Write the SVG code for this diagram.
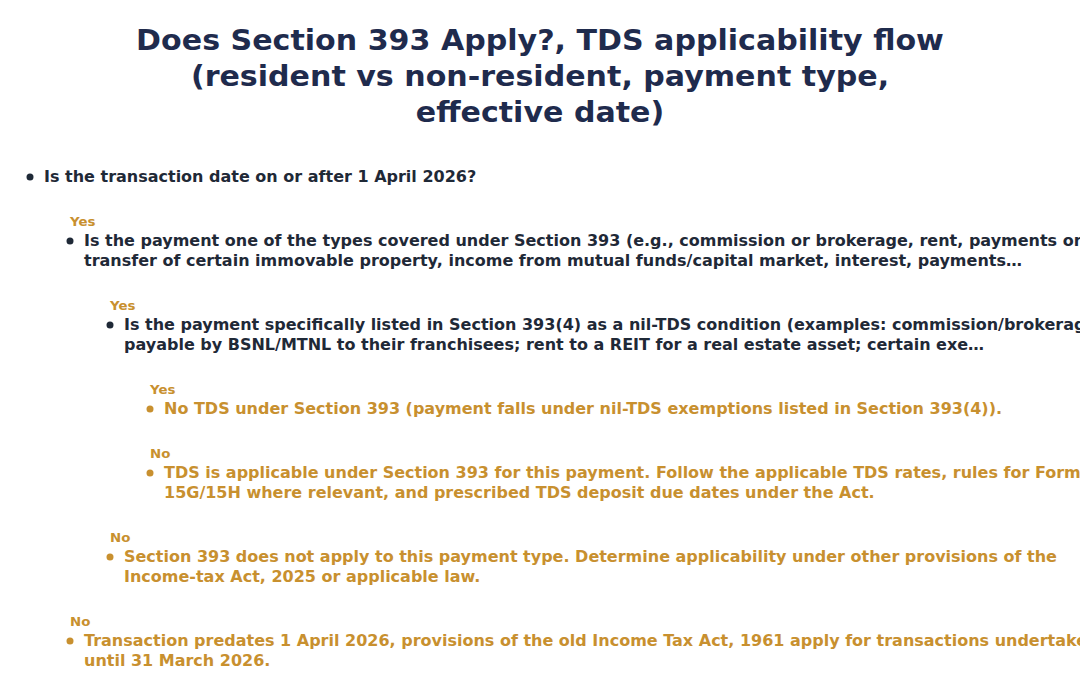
<svg xmlns="http://www.w3.org/2000/svg" width="1080" height="698" viewBox="0 0 1080 698">
<style>
text{font-family:"DejaVu Sans",sans-serif;font-weight:bold}
.t{font-size:28px;fill:#1f2b4d;text-anchor:middle}
.q{font-size:15px;fill:#1f2937}
.a{font-size:15px;fill:#c8902f}
.l{font-size:12.5px;fill:#c8902f}
.dq{fill:#1f2937}
.da{fill:#c8902f}
</style>
<rect width="1080" height="698" fill="#ffffff"/>
<g id="title">
<text class="t" transform="translate(540,50) scale(1.075,1)">Does Section 393 Apply?, TDS applicability flow</text>
<text class="t" transform="translate(540,86) scale(1.075,1)">(resident vs non-resident, payment type,</text>
<text class="t" transform="translate(540,122) scale(1.075,1)">effective date)</text>
</g>
<g id="connectors">
<text class="l" transform="translate(70,226) scale(1.067,1)">Yes</text>
<text class="l" transform="translate(110,310) scale(1.067,1)">Yes</text>
<text class="l" transform="translate(150,394) scale(1.067,1)">Yes</text>
<text class="l" transform="translate(150,458) scale(1.067,1)">No</text>
<text class="l" transform="translate(110,542) scale(1.067,1)">No</text>
<text class="l" transform="translate(70,626) scale(1.067,1)">No</text>
</g>
<g id="q1">
<circle class="dq" cx="30" cy="177" r="3.5"/>
<text class="q" transform="translate(44,182) scale(1.067,1)">Is the transaction date on or after 1 April 2026?</text>
</g>
<g id="q2">
<circle class="dq" cx="70" cy="241" r="3.5"/>
<text class="q" transform="translate(84,246) scale(1.067,1)">Is the payment one of the types covered under Section 393 (e.g., commission or brokerage, rent, payments on</text>
<text class="q" transform="translate(84,266) scale(1.067,1)">transfer of certain immovable property, income from mutual funds/capital market, interest, payments…</text>
</g>
<g id="q3">
<circle class="dq" cx="110" cy="325" r="3.5"/>
<text class="q" transform="translate(124,330) scale(1.067,1)">Is the payment specifically listed in Section 393(4) as a nil-TDS condition (examples: commission/brokerage</text>
<text class="q" transform="translate(124,350) scale(1.067,1)">payable by BSNL/MTNL to their franchisees; rent to a REIT for a real estate asset; certain exe…</text>
</g>
<g id="r1">
<circle class="da" cx="150" cy="409" r="3.5"/>
<text class="a" transform="translate(164,414) scale(1.067,1)">No TDS under Section 393 (payment falls under nil-TDS exemptions listed in Section 393(4)).</text>
</g>
<g id="r2">
<circle class="da" cx="150" cy="473" r="3.5"/>
<text class="a" transform="translate(164,478) scale(1.067,1)">TDS is applicable under Section 393 for this payment. Follow the applicable TDS rates, rules for Form</text>
<text class="a" transform="translate(164,498) scale(1.067,1)">15G/15H where relevant, and prescribed TDS deposit due dates under the Act.</text>
</g>
<g id="r3">
<circle class="da" cx="110" cy="557" r="3.5"/>
<text class="a" transform="translate(124,562) scale(1.067,1)">Section 393 does not apply to this payment type. Determine applicability under other provisions of the</text>
<text class="a" transform="translate(124,582) scale(1.067,1)">Income-tax Act, 2025 or applicable law.</text>
</g>
<g id="r4">
<circle class="da" cx="70" cy="641" r="3.5"/>
<text class="a" transform="translate(84,646) scale(1.067,1)">Transaction predates 1 April 2026, provisions of the old Income Tax Act, 1961 apply for transactions undertaken</text>
<text class="a" transform="translate(84,666) scale(1.067,1)">until 31 March 2026.</text>
</g>
</svg>
